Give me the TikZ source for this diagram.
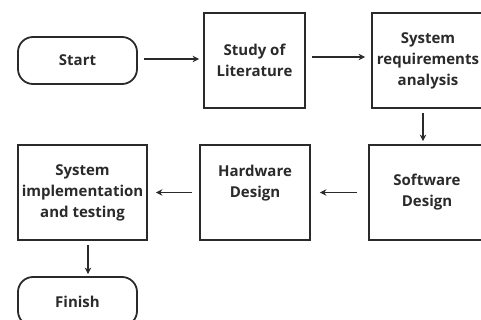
\documentclass[tikz,border=0pt]{standalone}
\usepackage{fontspec}
\setmainfont{Open Sans}
\usetikzlibrary{arrows.meta}
\definecolor{ink}{HTML}{2A2A2A}
\begin{document}
\begin{tikzpicture}[x=1pt,y=-1pt,
  box/.style={draw=ink,line width=1.8pt,rectangle,inner sep=0pt,
    font=\fontsize{15}{21}\selectfont\bfseries,text=ink,align=center},
  term/.style={box,rounded corners=15pt},
  txt/.style={inner sep=0pt,font=\fontsize{15}{21}\selectfont\bfseries,text=ink,align=center},
  arr/.style={draw=ink,line width=1.7pt,-{Stealth[length=6.5pt,width=6.5pt]}}]
\useasboundingbox (0,0) rectangle (481,320);
\clip (0,0) rectangle (481,320);
\node[term,minimum width=119pt,minimum height=47pt] (start) at (77.5,60.5) {Start};
\node[box,minimum width=101pt,minimum height=95pt] (study) at (254.5,60.5) {Study of\\Literature};
\node[box,minimum width=112pt,minimum height=95pt] (sysreq) at (428,60.5) {System\\requirements\\analysis};
\node[box,minimum width=116pt,minimum height=95pt] (soft) at (427,192.5) {Software\\Design};
\node[box,minimum width=110pt,minimum height=95pt] (hard) at (255,192.5) {};
\node[txt] (hardtxt) at (255,183) {Hardware\\Design};
\node[box,minimum width=129pt,minimum height=95pt] (impl) at (82.5,192.5) {System\\implementation\\and testing};
\node[term,minimum width=119pt,minimum height=49pt] (finish) at (77.5,301.5) {Finish};
\draw[arr,shorten <=6pt,shorten >=4pt] ([yshift=1.5]start.east) -- ([yshift=1.5]start.east -| study.west);
\draw[arr,shorten <=6pt,shorten >=6pt] ([yshift=3.5]study.east) -- ([yshift=3.5]study.east -| sysreq.west);
\draw[arr,shorten <=4pt,shorten >=3pt] ([xshift=-5]sysreq.south) -- ([xshift=-5]sysreq.south |- soft.north);
\draw[arr,shorten <=11pt,shorten >=9pt] (soft.west) -- (hard.east);
\draw[arr,shorten <=7pt,shorten >=8pt] (hard.west) -- (impl.east);
\draw[arr,shorten <=4pt,shorten >=2pt] ([xshift=5.5]impl.south) -- ([xshift=5.5]impl.south |- finish.north);
\end{tikzpicture}
\end{document}
